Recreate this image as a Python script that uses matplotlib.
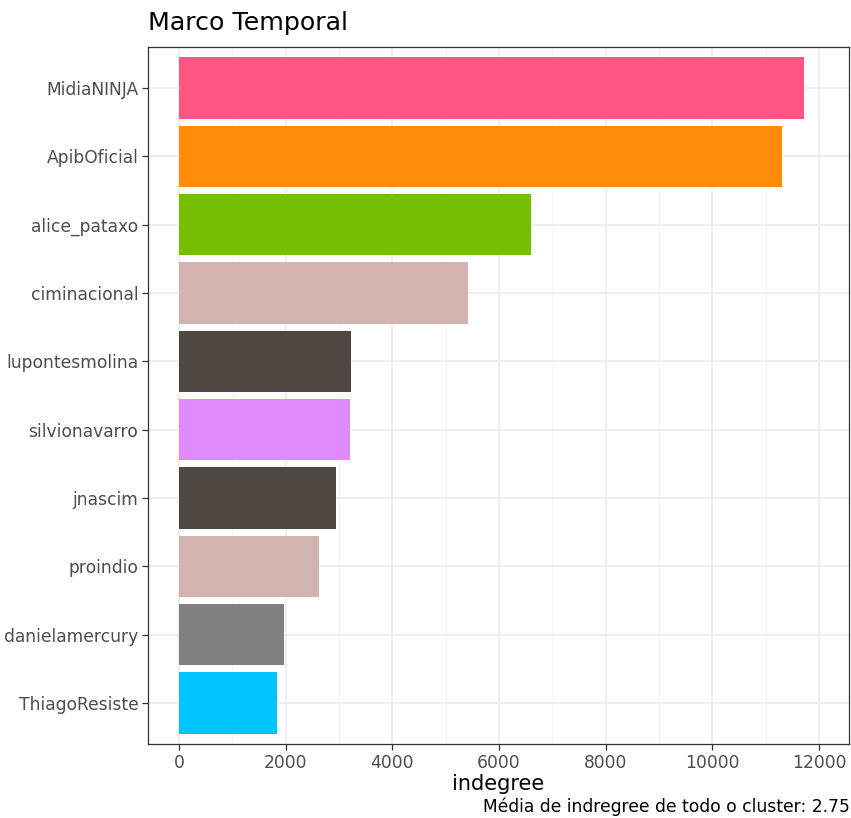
import matplotlib
matplotlib.use("Agg")
import matplotlib.pyplot as plt
from matplotlib.ticker import MultipleLocator

categories = ["MidiaNINJA", "ApibOficial", "alice_pataxo", "ciminacional", "lupontesmolina",
              "silvionavarro", "jnascim", "proindio", "danielamercury", "ThiagoResiste"]
values = [11720, 11300, 6600, 5420, 3225, 3205, 2945, 2625, 1970, 1840]
colors = ["#FF5684", "#FF8C09", "#74C000", "#D2B3AF", "#4F4741",
          "#DF8AFD", "#4F4741", "#D2B3AF", "#808080", "#00C5FF"]
title = "Marco Temporal"
xlabel = "indegree"
caption = "Média de indregree de todo o cluster: 2.75"
xticks = [0, 2000, 4000, 6000, 8000, 10000, 12000]

W, H = 851, 818
fig = plt.figure(figsize=(W / 100, H / 100), dpi=100)
ax = fig.add_axes([148 / W, (H - 744) / H, (849 - 148) / W, (744 - 47) / H])

n = len(categories)
ypos = [n - i for i in range(n)]
ax.barh(ypos, values, height=0.9, color=colors, zorder=3)

ax.set_xlim(-581, 12560)
ax.set_ylim(0.4, n + 0.6)
ax.set_yticks(ypos)
ax.set_yticklabels(categories)
ax.set_xticks(xticks)
ax.set_xticklabels([str(t) for t in xticks])
ax.xaxis.set_minor_locator(MultipleLocator(1000))

ax.grid(True, which="major", color="#EBEBEB", linewidth=1.1, zorder=0)
ax.grid(True, which="minor", axis="x", color="#F3F3F3", linewidth=0.6, zorder=0)
ax.tick_params(which="minor", length=0)
ax.tick_params(which="major", length=4, color="#333333", width=0.9,
               labelsize=12.3, labelcolor="#4D4D4D", pad=3)
for s in ax.spines.values():
    s.set_color("#333333")
    s.set_linewidth(0.9)

ax.set_xlabel(xlabel, fontsize=15, color="black", labelpad=2)
fig.text(148 / W, 1 - 23 / H, title, fontsize=18.2, ha="left", va="center")
fig.text(850 / W, 1 - 816 / H, caption, fontsize=12.3, ha="right", va="bottom")

fig.savefig("out.png", dpi=100)
